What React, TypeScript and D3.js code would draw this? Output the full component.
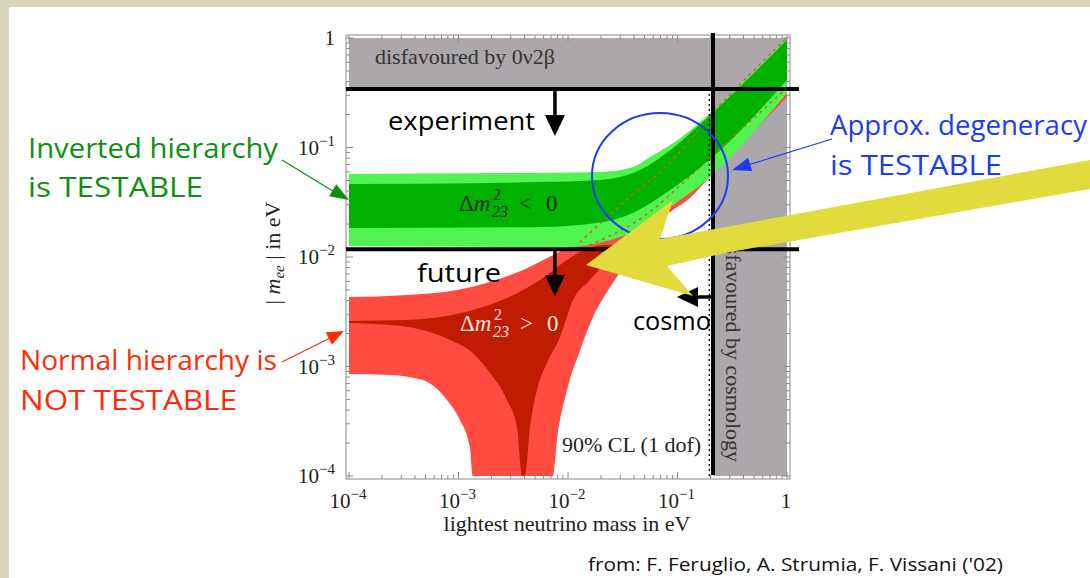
import React from "react";
import * as d3 from "d3";

type P = [number, number];

// lightest neutrino mass (eV) vs |m_ee| (eV)
const invLightUpper: P[] = [[1e-4, 0.0573], [1.96e-2, 0.0598], [3.93e-2, 0.0664], [5.61e-2, 0.0819], [8.02e-2, 0.101], [0.122, 0.136], [0.198, 0.205], [1.0, 1.0]];
const invLightLower: P[] = [[1e-4, 0.0126], [1.04e-2, 0.0123], [2.09e-2, 0.0137], [4.27e-2, 0.0177], [6.5e-2, 0.0232], [8.55e-2, 0.0286], [0.13, 0.0384], [0.171, 0.0474], [0.198, 0.0538], [1.0, 0.315]];
const invDarkUpper: P[] = [[1e-4, 0.0464], [5.55e-3, 0.0483], [1.96e-2, 0.0505], [4.55e-2, 0.0623], [9.1e-2, 0.0989], [0.186, 0.186], [1.0, 0.96]];
const invDarkLower: P[] = [[1e-4, 0.0184], [5.55e-3, 0.0188], [1.96e-2, 0.0207], [3.18e-2, 0.0232], [9.1e-2, 0.0427], [0.186, 0.0738], [1.0, 0.413]];

const normLightUpper: P[] = [[1e-4, 0.00431], [3.39e-4, 0.0045], [9.68e-4, 0.005], [1.94e-3, 0.00591], [3.88e-3, 0.0076], [7.94e-3, 0.0109], [1.11e-2, 0.0129], [2.58e-2, 0.0269], [5.61e-2, 0.0623], [0.105, 0.101], [0.198, 0.19], [1.0, 1.0]];
const normLightLower: P[] = [[1e-4, 8.55e-4], [2.37e-4, 8.36e-4], [4.74e-4, 7.53e-4], [7.85e-4, 4.94e-4], [1.03e-3, 3.24e-4], [1.27e-3, 1.84e-4], [1.35e-3, 1e-4], [7.29e-3, 1e-4], [7.94e-3, 2.13e-4], [9.8e-3, 6.1e-4], [1.29e-2, 1.41e-3], [1.69e-2, 2.83e-3], [2.27e-2, 4.79e-3], [2.99e-2, 7.3e-3], [3.93e-2, 1.16e-2], [5.61e-2, 1.84e-2], [8.55e-2, 2.58e-2], [0.13, 3.46e-2], [0.186, 5.05e-2], [1.0, 0.289]];
const normDarkUpper: P[] = [[1e-4, 0.00261], [3.39e-4, 0.00266], [6.78e-4, 0.00283], [1.35e-3, 0.00328], [2.77e-3, 0.00422], [5.55e-3, 0.00616], [9.8e-3, 0.0094], [1.29e-2, 0.0111], [2.2e-2, 0.0129], [2.99e-2, 0.0129]];
const normDarkLower: P[] = [[1e-4, 2.5e-3], [2.37e-4, 2.39e-3], [4.74e-4, 2.15e-3], [8.36e-4, 1.75e-3], [1.35e-3, 1.33e-3], [1.94e-3, 8.73e-4], [2.77e-3, 4.94e-4], [3.42e-3, 2.8e-4], [3.8e-3, 1e-4], [4.05e-3, 1e-4], [4.5e-3, 2.8e-4], [5.21e-3, 6.1e-4], [6.43e-3, 1.08e-3], [8.45e-3, 1.86e-3], [1.11e-2, 4.05e-3], [1.59e-2, 6.16e-3], [2.27e-2, 9.4e-3], [2.99e-2, 0.0129]];

// dotted boundaries seen through the green band
const dottedUpper: P[] = [[1.29e-2, 0.0137], [3.93e-2, 0.0376], [8.02e-2, 0.0678], [0.198, 0.194], [1.0, 1.0]];
const dottedLower: P[] = [[1.59e-2, 0.0129], [5.61e-2, 0.0258], [0.112, 0.0474], [0.198, 0.0802], [1.0, 0.349]];

const xTicks = [1e-4, 1e-3, 1e-2, 1e-1, 1];
const yTicks = [1, 1e-1, 1e-2, 1e-3, 1e-4];
const tickExp: Record<string, string> = { "0.0001": "−4", "0.001": "−3", "0.01": "−2", "0.1": "−1" };

const experimentBound = 0.342;
const futureBound = 0.0118;
const cosmoBound = 0.211;
const cosmoDotted = 0.195;
const arrowMass = 7.6e-3;

const serif = "'Liberation Serif', 'Times New Roman', serif";
const hand = "'Open Sans', 'DejaVu Sans', sans-serif";

const x = d3.scaleLog().domain([1e-4, 1]).range([349, 787]);
const y = d3.scaleLog().domain([1e-4, 1]).range([476, 38]);

const line = d3.line<P>().x((d) => x(d[0])).y((d) => y(d[1])).curve(d3.curveMonotoneX);
const band = (upper: P[], lower: P[]) =>
  line(upper)! + line([...lower].reverse())!.replace(/^M/, "L") + "Z";

const head = (x1: number, y1: number, x2: number, y2: number, len: number, w: number) => {
  const a = Math.atan2(y2 - y1, x2 - x1);
  const bx = x2 - len * Math.cos(a), by = y2 - len * Math.sin(a);
  const nx = -Math.sin(a) * w, ny = Math.cos(a) * w;
  return `${x2},${y2} ${bx + nx},${by + ny} ${bx - nx},${by - ny}`;
};

const Label = ({ v, px, py, anchor }: { v: number; px: number; py: number; anchor: string }) => {
  const e = tickExp[String(v)];
  return (
    <text x={px} y={py} textAnchor={anchor} fontFamily={serif} fontSize={21} fill="#222">
      {e ? "10" : "1"}
      {e && <tspan dy={-9} fontSize={15}>{e}</tspan>}
    </text>
  );
};

// Δm²₂₃ label with stacked super/subscript
const DeltaLabel = ({ px, py, rel, fill }: { px: number; py: number; rel: string; fill: string }) => (
  <g fontFamily={serif} fontSize={23} fill={fill}>
    <text x={px} y={py}>Δ<tspan fontStyle="italic">m</tspan></text>
    <text x={px + 34} y={py - 11} fontSize={16}>2</text>
    <text x={px + 33} y={py + 6} fontSize={16} fontStyle="italic">23</text>
    <text x={px + 60} y={py}>{rel}</text>
    <text x={px + 87} y={py}>0</text>
  </g>
);

export default function App() {
  const minor: number[] = [];
  for (let d = -4; d < 0; d++) for (let k = 1; k < 10; k++) minor.push(k * Math.pow(10, d));
  minor.push(1);
  const L = 346, R = 790, T = 35, B = 479;

  return (
    <svg width={1090} height={578} style={{ position: "absolute", left: 0, top: 0, display: "block" }}>
      <defs>
        <clipPath id="plot">
          <rect x={349} y={38} width={438} height={438} />
        </clipPath>
      </defs>
      <rect width={1090} height={578} fill="#d7d4bc" />
      <rect x={9} y={7} width={1081} height={571} fill="#ffffff" />

      {/* excluded regions */}
      <rect x={x(1e-4)} y={y(1)} width={x(1) - x(1e-4)} height={y(experimentBound) - y(1)} fill="#aba7ab" />
      <rect x={x(cosmoBound)} y={y(experimentBound)} width={x(1) - x(cosmoBound)} height={y(1e-4) - y(experimentBound)} fill="#aba7ab" />

      <g clipPath="url(#plot)">
        <path d={band(normLightUpper, normLightLower)} fill="#ff4b42" />
        <path d={band(normDarkUpper, normDarkLower)} fill="#c01c00" />
        <path d={band(invLightUpper, invLightLower)} fill="#50f350" />
        <path d={band(invDarkUpper, invDarkLower)} fill="#00b200" />
        {[dottedUpper, dottedLower].map((d, i) => (
          <path key={i} d={line(d)!} fill="none" stroke="#d0641e" strokeWidth={1.6} strokeDasharray="1.5 5.5" strokeLinecap="round" />
        ))}
      </g>

      {/* frame and log ticks */}
      <rect x={L} y={T} width={R - L} height={B - T} fill="none" stroke="#8a8a8a" strokeWidth={1} />
      {minor.map((v, i) => {
        const big = Math.abs(Math.log10(v) - Math.round(Math.log10(v))) < 1e-9;
        const len = big ? 7 : 4;
        return (
          <g key={i} stroke="#8a8a8a" strokeWidth={1}>
            <line x1={x(v)} x2={x(v)} y1={B} y2={B - len} />
            <line x1={x(v)} x2={x(v)} y1={T} y2={T + len} />
            <line y1={y(v)} y2={y(v)} x1={L} x2={L + len} />
            <line y1={y(v)} y2={y(v)} x1={R} x2={R - len} />
          </g>
        );
      })}
      {xTicks.map((v) => (
        <Label key={v} v={v} px={x(v) - 1} py={508} anchor="middle" />
      ))}
      {yTicks.map((v) => (
        <Label key={v} v={v} px={335} py={y(v) + 7} anchor="end" />
      ))}
      <text x={567} y={531} textAnchor="middle" fontFamily={serif} fontSize={22} fill="#222">
        lightest neutrino mass in eV
      </text>
      <text transform="translate(280,253) rotate(-90)" textAnchor="middle" fontFamily={serif} fontSize={22} fill="#222">
        {"| "}
        <tspan fontStyle="italic">m</tspan>
        <tspan fontStyle="italic" fontSize={15} dy={4}>ee</tspan>
        <tspan dy={-4}>{" | in eV"}</tspan>
      </text>

      {/* in-plot labels */}
      <text x={375} y={64} fontFamily={serif} fontSize={22} fill="#333">disfavoured by 0ν2β</text>
      <text x={562} y={452} fontFamily={serif} fontSize={22} fill="#222">90% CL (1 dof)</text>
      <DeltaLabel px={459} py={211} rel="<" fill="#1b2e1b" />
      <DeltaLabel px={460} py={331} rel=">" fill="#f4e4e0" />
      <text transform="translate(726,462) rotate(90)" textAnchor="end" fontFamily={serif} fontSize={22} fill="#333">
        disfavoured by cosmology
      </text>

      {/* limits */}
      <line x1={L} x2={R + 9} y1={y(experimentBound)} y2={y(experimentBound)} stroke="#000" strokeWidth={4} />
      <line x1={L} x2={R + 9} y1={y(futureBound)} y2={y(futureBound)} stroke="#000" strokeWidth={4} />
      <line x1={x(cosmoDotted)} x2={x(cosmoDotted)} y1={y(experimentBound)} y2={B} stroke="#000" strokeWidth={1.3} strokeDasharray="2 3" />
      <line x1={x(cosmoBound)} x2={x(cosmoBound)} y1={T - 2} y2={B - 4} stroke="#000" strokeWidth={4} />

      {/* limit arrows */}
      <line x1={x(arrowMass)} x2={x(arrowMass)} y1={y(experimentBound)} y2={116} stroke="#000" strokeWidth={3.5} />
      <polygon points={`${x(arrowMass) - 10},115 ${x(arrowMass) + 10},115 ${x(arrowMass)},136`} fill="#000" />
      <line x1={x(arrowMass)} x2={x(arrowMass)} y1={y(futureBound)} y2={276} stroke="#000" strokeWidth={3.5} />
      <polygon points={`${x(arrowMass) - 10},275 ${x(arrowMass) + 10},275 ${x(arrowMass)},296`} fill="#000" />
      <line x1={x(cosmoBound)} x2={697} y1={297} y2={297} stroke="#000" strokeWidth={3.5} />
      <polygon points={`698,287 698,307 677,297`} fill="#000" />

      <g fontFamily={hand} fontSize={26} fill="#000">
        <text x={388} y={130} textLength={147} lengthAdjust="spacingAndGlyphs">experiment</text>
        <text x={417} y={282} textLength={84} lengthAdjust="spacingAndGlyphs">future</text>
        <text x={633} y={330} textLength={78} lengthAdjust="spacingAndGlyphs">cosmo</text>
      </g>

      {/* annotations */}
      <ellipse cx={660} cy={176} rx={68} ry={63} fill="none" stroke="#1d3cf2" strokeWidth={2} />
      <polygon points="586,265 673,200 660,239 1090,160 1090,189 730,252 667,266 693,296" fill="#e1db3e" />

      <g fontFamily={hand} fontSize={27}>
        <text x={28} y={158} fill="#0f8f0f" textLength={250} lengthAdjust="spacingAndGlyphs">Inverted hierarchy</text>
        <text x={28} y={197} fill="#0f8f0f" textLength={175} lengthAdjust="spacingAndGlyphs">is TESTABLE</text>
        <text x={20} y={370} fill="#ff2a0a" textLength={257} lengthAdjust="spacingAndGlyphs">Normal hierarchy is</text>
        <text x={20} y={410} fill="#ff2a0a" textLength={217} lengthAdjust="spacingAndGlyphs">NOT TESTABLE</text>
        <text x={830} y={135} fill="#1d3cf2" textLength={257} lengthAdjust="spacingAndGlyphs">Approx. degeneracy</text>
        <text x={830} y={175} fill="#1d3cf2" textLength={172} lengthAdjust="spacingAndGlyphs">is TESTABLE</text>
      </g>
      <line x1={282} y1={160} x2={336} y2={193} stroke="#0f8f0f" strokeWidth={1.2} />
      <polygon points={head(282, 160, 349, 200, 19, 7)} fill="#0f8f0f" />
      <line x1={282} y1={362} x2={330} y2={338} stroke="#ff2a0a" strokeWidth={1.2} />
      <polygon points={head(282, 362, 344, 331, 17, 7)} fill="#ff2a0a" />
      <line x1={832} y1={139} x2={748} y2={165} stroke="#1d3cf2" strokeWidth={1.2} />
      <polygon points={head(832, 139, 732, 170, 19, 7)} fill="#1d3cf2" />

      <text x={588} y={571} fontFamily={hand} fontSize={19} fill="#111" textLength={415} lengthAdjust="spacingAndGlyphs">
        from: F. Feruglio, A. Strumia, F. Vissani ('02)
      </text>
    </svg>
  );
}
